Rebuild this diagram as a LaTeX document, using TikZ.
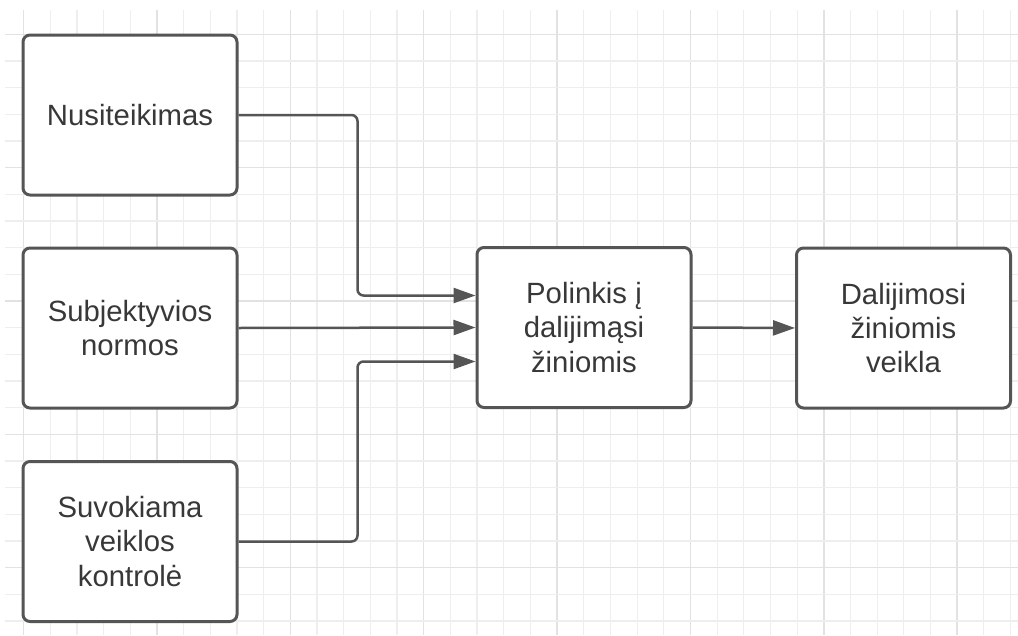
\documentclass[tikz,border=0pt]{standalone}
\usepackage{fontspec}
\setmainfont{Liberation Sans}
\usetikzlibrary{arrows.meta}
\definecolor{edgegray}{HTML}{555555}
\definecolor{txtgray}{HTML}{383838}
\definecolor{gridminor}{HTML}{EEEEEE}
\definecolor{gridmajor}{HTML}{E2E2E2}
\begin{document}
\begin{tikzpicture}[x=1pt,y=-1pt,
  box/.style={draw=edgegray, line width=3pt, rounded corners=7pt, fill=white,
    minimum width=214pt, minimum height=160pt, align=center, text=txtgray,
    inner sep=0pt, font=\fontsize{29.3}{34.3}\selectfont},
  conn/.style={draw=edgegray, line width=2.5pt, rounded corners=6pt,
    -{Triangle[length=22pt,width=15pt]}},
  gminor/.style={draw=gridminor, line width=1.2pt},
  gmajor/.style={draw=gridmajor, line width=1.4pt}]
\useasboundingbox (0,0) rectangle (1018,635);
\fill[white] (0,0) rectangle (1018,635);
% grid
\foreach \k in {0,...,37}{
  \pgfmathsetmacro{\xx}{23.7+26.67*\k}
  \pgfmathtruncatemacro{\m}{mod(\k,5)}
  \ifnum\m=0 \draw[gmajor] (\xx,10) -- (\xx,635); \else \draw[gminor] (\xx,10) -- (\xx,635); \fi
}
\foreach \k in {0,...,22}{
  \pgfmathsetmacro{\yy}{34.3+26.67*\k}
  \pgfmathtruncatemacro{\m}{mod(\k,5)}
  \ifnum\m=0 \draw[gmajor] (5,\yy) -- (1018,\yy); \else \draw[gminor] (5,\yy) -- (1018,\yy); \fi
}
% nodes
\node[box] (n1) at (130,115) {Nusiteikimas};
\node[box] (n2) at (130,328) {Subjektyvios\\normos};
\node[box] (n3) at (130,541.5) {Suvokiama\\veiklos\\kontrolė};
\node[box] (p) at (584,327.5) {Polinkis į\\dalijimąsi\\žiniomis};
\node[box] (d) at (903.5,328) {Dalijimosi\\žiniomis\\veikla};
% connectors
\draw[conn] (n1.east) -- ++(119,0) |- ([yshift=32pt]p.west);
\draw[conn] (n2.east) -- (p.west);
\draw[conn] (n3.east) -- ++(119,0) |- ([yshift=-34pt]p.west);
\draw[conn] (p.east) -- (d.west);
\end{tikzpicture}
\end{document}
